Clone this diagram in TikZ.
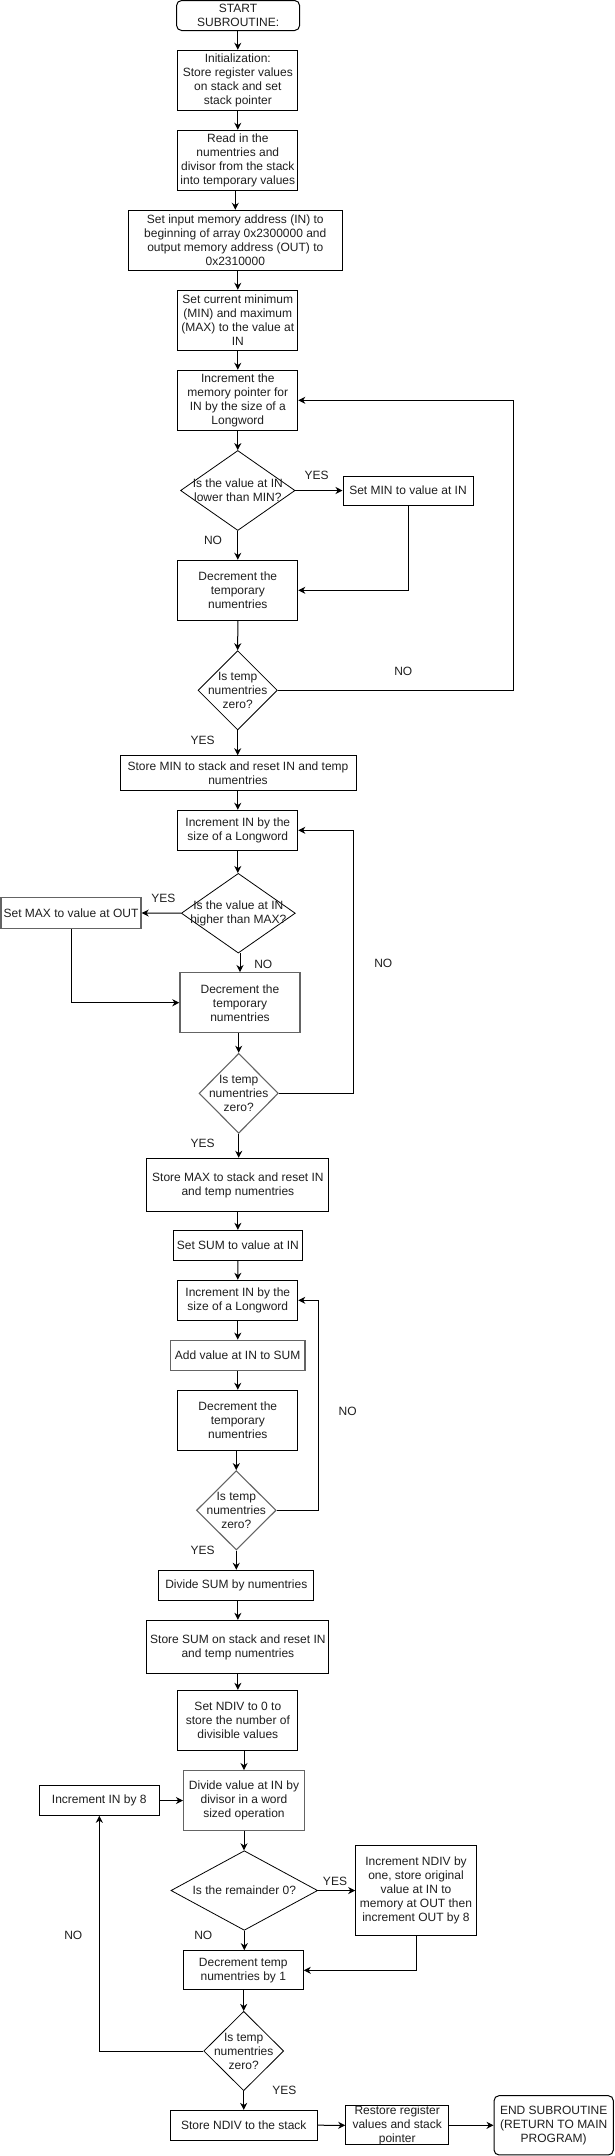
\documentclass[tikz,border=0pt]{standalone}
\usepackage{fontspec}
\setmainfont{Liberation Sans}
\usetikzlibrary{shapes.geometric,arrows.meta}
\definecolor{txt}{RGB}{30,30,30}
\definecolor{gry}{RGB}{100,100,100}
\begin{document}
\begin{tikzpicture}[x=1pt,y=-1pt,
  every node/.style={font=\fontsize{12}{14}\selectfont, text=txt, inner sep=0pt},
  box/.style={draw=black, line width=1pt, rectangle, align=center},
  gbox/.style={draw=gry, line width=1.4pt, rectangle, align=center},
  term/.style={draw=black, line width=1pt, rectangle, rounded corners=5pt, align=center},
  dia/.style={draw=black, line width=0.8pt, diamond},
  gdia/.style={draw=gry, line width=1.1pt, diamond},
  lbl/.style={align=center},
  arr/.style={draw=black, line width=1pt, -{Stealth[length=7pt,width=7pt,inset=2.2pt]}},
  ln/.style={draw=black, line width=1pt}]
\useasboundingbox (0,0) rectangle (614,2156);

% top column
\node[term, minimum width=123pt, minimum height=30pt] (start) at (238.1,15.5) {START\\SUBROUTINE:};
\node[box, minimum width=120pt, minimum height=60pt] (init) at (237.8,80.3) {Initialization:\\Store register values\\on stack and set\\stack pointer};
\node[box, minimum width=120pt, minimum height=60pt] (read) at (237.8,160.3) {Read in the\\numentries and\\divisor from the stack\\into temporary values};
\node[box, minimum width=214.6pt, minimum height=60pt] (setin) at (235.3,240.3) {Set input memory address (IN) to\\beginning of array 0x2300000 and\\output memory address (OUT) to\\0x2310000};
\node[box, minimum width=120pt, minimum height=60pt] (setcur) at (237.8,320.3) {Set current minimum\\(MIN) and maximum\\(MAX) to the value at\\IN};

% loop 1
\node[box, minimum width=120pt, minimum height=60pt] (inc1) at (237.8,400.3) {Increment the\\memory pointer for\\IN by the size of a\\Longword};
\node[dia, minimum width=114.5pt, minimum height=80pt] (d1) at (237.8,490.5) {};
\node[lbl] (d1t) at (d1.center) {Is the value at IN\\lower than MIN?};
\node[box, minimum width=130pt, minimum height=29pt] (setmin) at (408,490.5) {Set MIN to value at IN};
\node[lbl] (yes1) at (316.7,475.7) {YES};
\node[lbl] (no1) at (213,540.3) {NO};
\node[box, minimum width=120pt, minimum height=60pt] (dec1) at (237.8,590.3) {Decrement the\\temporary\\numentries};
\node[dia, minimum width=79.3pt, minimum height=79.3pt] (d2) at (237.7,690.3) {};
\node[lbl] (d2t) at (d2.center) {Is temp\\numentries\\zero?};
\node[lbl] (no2) at (403.3,671) {NO};
\node[lbl] (yes2) at (202.7,740.3) {YES};
\coordinate (l1) at (513,0);
\node[box, minimum width=236pt, minimum height=34.6pt] (storemin) at (238,773) {Store MIN to stack and reset IN and temp\\numentries};

% loop 2
\node[box, minimum width=120pt, minimum height=40pt] (inc2) at (237.8,830.3) {Increment IN by the\\size of a Longword};
\node[dia, minimum width=114pt, minimum height=79.7pt] (d3) at (238.3,913.2) {};
\node[lbl] (d3t) at (d3.center) {Is the value at IN\\higher than MAX?};
\node[gbox, minimum width=140pt, minimum height=30.6pt] (setmax) at (71,913) {Set MAX to value at OUT};
\node[lbl] (yes3) at (163.3,898.3) {YES};
\node[lbl] (no3) at (263.3,964) {NO};
\node[gbox, minimum width=120pt, minimum height=60pt] (dec2) at (240,1002.7) {Decrement the\\temporary\\numentries};
\node[gdia, minimum width=79.3pt, minimum height=80pt] (d4) at (238.7,1093.3) {};
\node[lbl] (d4t) at (d4.center) {Is temp\\numentries\\zero?};
\node[lbl] (no4) at (383.3,963.3) {NO};
\node[lbl] (yes4) at (202.7,1143.3) {YES};
\coordinate (l2) at (353.3,0);
\node[box, minimum width=182pt, minimum height=53.4pt] (storemax) at (237.9,1185) {Store MAX to stack and reset IN\\and temp numentries};

% loop 3
\node[box, minimum width=129.7pt, minimum height=30.4pt] (setsum) at (237.85,1245.5) {Set SUM to value at IN};
\node[box, minimum width=120pt, minimum height=40pt] (inc3) at (237.8,1300.3) {Increment IN by the\\size of a Longword};
\node[gbox, minimum width=134.7pt, minimum height=30pt] (add) at (237.65,1355.3) {Add value at IN to SUM};
\node[box, minimum width=120pt, minimum height=60pt] (dec3) at (237.8,1420.3) {Decrement the\\temporary\\numentries};
\node[gdia, minimum width=79.7pt, minimum height=79.3pt] (d5) at (236.3,1510.3) {};
\node[lbl] (d5t) at (d5.center) {Is temp\\numentries\\zero?};
\node[lbl] (no5) at (347.7,1411) {NO};
\node[lbl] (yes5) at (202.7,1550.3) {YES};
\coordinate (l3) at (318.3,0);
\node[box, minimum width=154.7pt, minimum height=30pt] (divsum) at (236.3,1585.3) {Divide SUM by numentries};
\node[box, minimum width=182pt, minimum height=53.4pt] (storesum) at (237.9,1647) {Store SUM on stack and reset IN\\and temp numentries};

% loop 4
\node[box, minimum width=120pt, minimum height=60pt] (ndiv) at (237.85,1720.3) {Set NDIV to 0 to\\store the number of\\divisible values};
\node[gbox, minimum width=120.6pt, minimum height=59.6pt] (divide) at (244,1800.5) {Divide value at IN by\\divisor in a word\\sized operation};
\node[box, minimum width=120pt, minimum height=29.6pt] (inc8) at (99.3,1800.5) {Increment IN by 8};
\node[dia, minimum width=146.7pt, minimum height=79.6pt] (d6) at (244.3,1890.5) {};
\node[lbl] (d6t) at (d6.center) {Is the remainder 0?};
\node[lbl] (yes6) at (335,1881.7) {YES};
\node[box, minimum width=120.6pt, minimum height=90pt] (incndiv) at (416,1890.7) {Increment NDIV by\\one, store original\\value at IN to\\memory at OUT then\\increment OUT by 8};
\node[lbl] (no6) at (203.3,1935.7) {NO};
\node[box, minimum width=120pt, minimum height=39.3pt] (dec4) at (243.3,1970.3) {Decrement temp\\numentries by 1};
\node[dia, minimum width=80pt, minimum height=79.4pt] (d7) at (243.7,2051) {};
\node[lbl] (d7t) at (d7.center) {Is temp\\numentries\\zero?};
\node[lbl] (no7) at (73.3,1935.7) {NO};
\node[lbl] (yes7) at (284.3,2090.7) {YES};
\node[box, minimum width=147pt, minimum height=29.7pt] (storendiv) at (243.8,2125.2) {Store NDIV to the stack};
\node[box, minimum width=103pt, minimum height=39.3pt] (restore) at (397.2,2125.3) {Restore register\\values and stack\\pointer};
\node[term, minimum width=119.3pt, minimum height=59.3pt] (endn) at (553.7,2125.3) {END SUBROUTINE\\(RETURN TO MAIN\\PROGRAM)};

% connectors
\draw[arr] (init.north |- start.south) -- (init.north);
\draw[arr] (init.south) -- (read.north);
\draw[arr] (setin.north |- read.south) -- (setin.north);
\draw[arr] (setcur.north |- setin.south) -- (setcur.north);
\draw[arr] (setcur.south) -- (inc1.north);
\draw[arr] (inc1.south) -- (d1.north);
\draw[arr] (d1.east) -- (setmin.west);
\draw[arr] (setmin.south) |- (dec1.east);
\draw[arr] (d1.south) -- (dec1.north);
\draw[arr] (dec1.south) -- (d2.north);
\draw[arr] (d2.east) -- (d2.east -| l1) |- (inc1.east);
\draw[arr] (d2.south) -- (storemin.north -| d2.south);

\draw[arr] (storemin.south -| inc2.north) -- (inc2.north);
\draw[arr] (inc2.south) -- (d3.north -| inc2.south);
\draw[arr] (d3.west) -- (setmax.east);
\draw[arr] (setmax.south) |- (dec2.west);
\draw[arr] (dec2.north |- d3.south) -- (dec2.north);
\draw[arr] (dec2.south -| d4.north) -- (d4.north);
\draw[arr] (d4.east) -- (d4.east -| l2) |- (inc2.east);
\draw[arr] (d4.south) -- (storemax.north -| d4.south);

\draw[arr] (storemax.south -| setsum.north) -- (setsum.north);
\draw[arr] (setsum.south) -- (inc3.north);
\draw[arr] (inc3.south) -- (add.north -| inc3.south);
\draw[arr] (add.south -| dec3.north) -- (dec3.north);
\draw[arr] (dec3.south -| d5.north) -- (d5.north);
\draw[arr] (d5.east) -- (d5.east -| l3) |- (inc3.east);
\draw[arr] (d5.south) -- (divsum.north -| d5.south);
\draw[arr] (divsum.south -| storesum.north) -- (storesum.north);

\draw[arr] (storesum.south -| ndiv.north) -- (ndiv.north);
\draw[arr] (divide.north |- ndiv.south) -- (divide.north);
\draw[arr] (inc8.east) -- (divide.west);
\draw[arr] (divide.south) -- (d6.north -| divide.south);
\draw[arr] (d6.east) -- (incndiv.west |- d6.east);
\draw[arr] (incndiv.south) |- (dec4.east);
\draw[arr] (d6.south) -- (dec4.north -| d6.south);
\draw[arr] (dec4.south -| d7.north) -- (d7.north);
\draw[arr] (d7.west) -| (inc8.south);
\draw[arr] (d7.south) -- (storendiv.north -| d7.south);
\draw[arr] (storendiv.east) -- (restore.west);
\draw[arr] (restore.east) -- (endn.west);
\end{tikzpicture}
\end{document}
